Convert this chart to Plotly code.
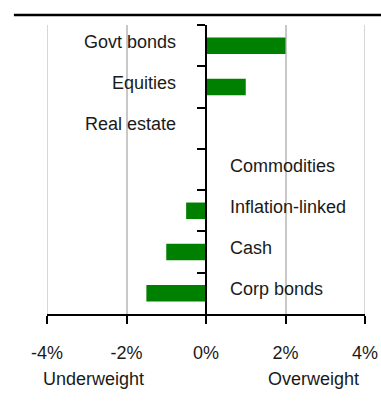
import plotly.graph_objects as go

# Asset-class tilts relative to benchmark (percentage points)
categories = ["Govt bonds", "Equities", "Real estate", "Commodities",
              "Inflation-linked", "Cash", "Corp bonds"]
tilts = [2.0, 1.0, 0.0, 0.0, -0.5, -1.0, -1.5]
# which side of the zero axis each category name is written on
label_sides = ["left", "left", "left", "right", "right", "right", "right"]
tick_values = [-4, -2, 0, 2, 4]
tick_labels = ["-4%", "-2%", "0%", "2%", "4%"]

FONT = "Liberation Sans, Arial, sans-serif"
TEXT = "#1a1a1a"
GREEN = "#008000"
GRID = "#c8c8c8"

fig = go.Figure(
    go.Bar(
        x=tilts,
        y=categories,
        orientation="h",
        marker=dict(color=GREEN, line=dict(width=0)),
        width=0.4,
        hoverinfo="x+y",
    )
)

for cat, side in zip(categories, label_sides):
    left = side == "left"
    fig.add_annotation(x=0, y=cat, xref="x", yref="y", text=cat,
                       showarrow=False,
                       xanchor="right" if left else "left", yanchor="middle",
                       xshift=-28 if left else 22, yshift=4,
                       font=dict(family=FONT, size=18, color=TEXT))

fig.add_annotation(x=-2.82, y=-0.225, xref="x", yref="paper", text="Underweight",
                   showarrow=False, xanchor="center", yanchor="middle",
                   font=dict(family=FONT, size=18, color=TEXT))
fig.add_annotation(x=2.7, y=-0.225, xref="x", yref="paper", text="Overweight",
                   showarrow=False, xanchor="center", yanchor="middle",
                   font=dict(family=FONT, size=18, color=TEXT))

# Edge gridlines at the ends of the range
for v in (tick_values[0], tick_values[-1]):
    fig.add_shape(type="line", xref="x", yref="paper", x0=v, x1=v, y0=0, y1=1,
                  line=dict(color=GRID, width=1.5), layer="below")

# Heading rule across the top
fig.add_shape(type="line", xref="paper", yref="paper",
              x0=-0.104, x1=1.06, y0=1.035, y1=1.035,
              line=dict(color="black", width=2.5))

fig.update_layout(
    width=381,
    height=410,
    margin=dict(l=47, r=16, t=25, b=96, autoexpand=False),
    paper_bgcolor="white",
    plot_bgcolor="white",
    showlegend=False,
    font=dict(family=FONT, size=18, color=TEXT),
    xaxis=dict(
        range=[-4, 4],
        tickvals=tick_values,
        ticktext=tick_labels,
        showgrid=True,
        gridcolor=GRID,
        gridwidth=1.5,
        zeroline=False,
        showline=True,
        linecolor="black",
        linewidth=2,
        ticks="outside",
        ticklen=8,
        tickwidth=2,
        tickcolor="black",
        ticklabelstandoff=13,
        automargin=False,
        tickfont=dict(family=FONT, size=18, color=TEXT),
    ),
    yaxis=dict(
        categoryorder="array",
        categoryarray=categories,
        autorange="reversed",
        anchor="free",
        position=0.5,
        showline=True,
        linecolor="black",
        linewidth=2,
        ticks="outside",
        tickson="boundaries",
        ticklen=8,
        tickwidth=2,
        tickcolor="black",
        showticklabels=False,
        showgrid=False,
        zeroline=False,
        automargin=False,
    ),
)

fig.write_html("out.html")
